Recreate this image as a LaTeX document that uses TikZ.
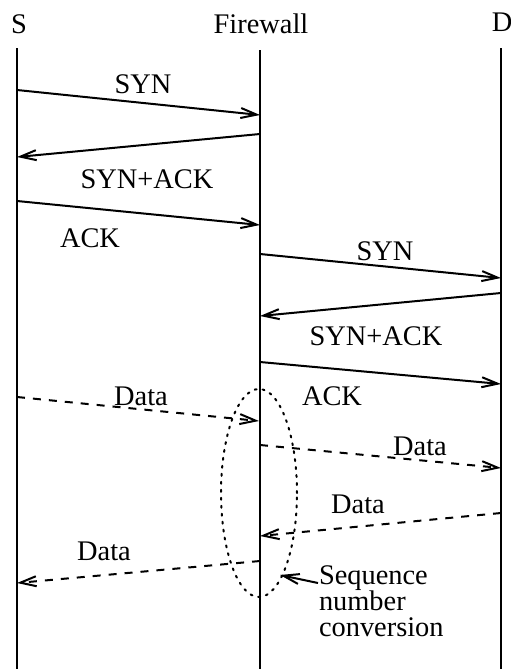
\documentclass[tikz,border=0pt]{standalone}
\usepackage{fontspec}
\setmainfont{Liberation Serif}
\usetikzlibrary{arrows.meta,shapes.geometric}

\begin{document}
\begin{tikzpicture}[x=0.5pt, y=-0.5pt, line width=1pt,
    font=\fontsize{14.2pt}{17pt}\selectfont,
    msg/.style = {-{Straight Barb[length=8pt,width=5pt]}},
    datamsg/.style = {msg, dash pattern=on 4pt off 4pt},
    lbl/.style = {anchor=base, inner sep=0pt}]
    \useasboundingbox (0,0) rectangle (510,669);

    % the three parties
    \node[lbl] (src) at (19,33) {S};
    \node[lbl] (fw) at (261,33) {Firewall};
    \node[lbl] (dst) at (502,32) {D};
    \coordinate (srcTop) at (17,48);
    \coordinate (srcBot) at (17,669);
    \coordinate (fwTop) at (260,50);
    \coordinate (fwBot) at (260,669);
    \coordinate (dstTop) at (501,48);
    \coordinate (dstBot) at (501,669);
    \draw (srcTop) -- (srcBot);
    \draw (fwTop) -- (fwBot);
    \draw (dstTop) -- (dstBot);

    % handshake S -- firewall
    \coordinate (s1) at (17,90);   \coordinate (f1) at (260,115);
    \coordinate (f2) at (260,134); \coordinate (s2) at (17,157);
    \coordinate (s3) at (17,201);  \coordinate (f3) at (260,225);
    \draw[msg] (s1) -- (f1);
    \draw[msg] (f2) -- (s2);
    \draw[msg] (s3) -- (f3);
    \node[lbl] (syn1) at (143,93) {SYN};
    \node[lbl] (synack1) at (147,188) {SYN+ACK};
    \node[lbl] (ack1) at (90,247) {ACK};

    % handshake firewall -- D
    \coordinate (f4) at (260,254); \coordinate (d4) at (501,278);
    \coordinate (d5) at (501,293); \coordinate (f5) at (260,316);
    \coordinate (f6) at (260,362); \coordinate (d6) at (501,384);
    \draw[msg] (f4) -- (d4);
    \draw[msg] (d5) -- (f5);
    \draw[msg] (f6) -- (d6);
    \node[lbl] (syn2) at (385,260) {SYN};
    \node[lbl] (synack2) at (376,345) {SYN+ACK};
    \node[lbl] (ack2) at (332,405) {ACK};

    % data
    \coordinate (s7) at (17,397);  \coordinate (f7) at (259,421);
    \coordinate (f8) at (260,445); \coordinate (d8) at (501,468);
    \coordinate (d9) at (501,513); \coordinate (f9) at (260,536);
    \coordinate (f10) at (260,561); \coordinate (s10) at (17,583);
    \draw[datamsg] (s7) -- (f7);
    \draw[datamsg] (f8) -- (d8);
    \draw[datamsg] (d9) -- (f9);
    \draw[datamsg] (f10) -- (s10);
    \node[lbl] (data1) at (141,405) {Data};
    \node[lbl] (data2) at (420,455) {Data};
    \node[lbl] (data3) at (358,513) {Data};
    \node[lbl] (data4) at (104,560) {Data};

    % sequence number conversion
    \node[draw, ellipse, dash pattern=on 1pt off 3pt, line cap=round,
        minimum width=38pt, minimum height=104pt] (conv) at (259,493) {};
    \node[anchor=north west, inner sep=0pt, align=left,
        font=\fontsize{14.2pt}{13pt}\selectfont] (seq) at (318,565)
        {Sequence\\number\\conversion};
    \coordinate (seqTail) at (318,583);
    \coordinate (convPt) at (280,575);
    \draw[msg] (seqTail) -- (convPt);
\end{tikzpicture}
\end{document}
